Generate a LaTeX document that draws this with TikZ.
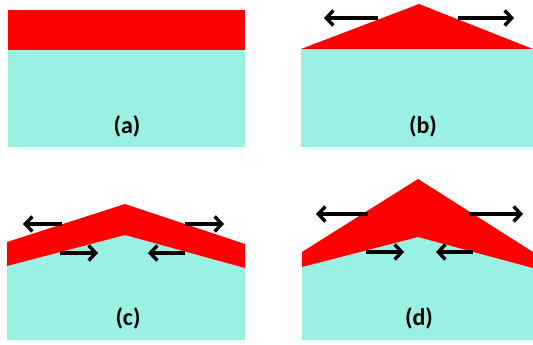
\documentclass[tikz,border=0pt]{standalone}
\usepackage{fontspec}
\setmainfont{Carlito}
\usepackage{tikz}
\usetikzlibrary{arrows.meta}

\definecolor{filmred}{RGB}{255,0,0}
\definecolor{substcyan}{RGB}{154,240,226}

\begin{document}
\begin{tikzpicture}[
  x=1pt, y=-1pt,
  film/.style={fill=filmred, draw=none},
  subst/.style={fill=substcyan, draw=none},
  push/.style={draw=black, line width=3.4pt, -{Straight Barb[length=7pt, width=15pt]}},
  tag/.style={font=\bfseries\fontsize{24}{26}\selectfont, inner sep=0pt}
]
\useasboundingbox (0,0) rectangle (533,345);

% (a) flat film
\fill[subst] (8,50) rectangle (245,147);
\fill[film] (8,10) rectangle (245,50);
\node[tag] (taga) at (127,126) {(a)};

% (b) wedge on top
\fill[subst] (301,49) rectangle (533,147);
\fill[film] (301,49) -- (419,4) -- (533,49) -- cycle;
\node[tag] (tagb) at (423,126) {(b)};
\coordinate (b1) at (378,18); \coordinate (b2) at (324,18);
\coordinate (b3) at (458,18); \coordinate (b4) at (514,18);
\draw[push] (b1) -- (b2);
\draw[push] (b3) -- (b4);

% (c) bent band
\fill[subst] (7,266) -- (125,235) -- (245,268) -- (245,340) -- (7,340) -- cycle;
\fill[film] (7,242) -- (125,204) -- (245,244) -- (245,268) -- (125,235) -- (7,266) -- cycle;
\node[tag] (tagc) at (128,318) {(c)};
\coordinate (c1) at (62,224); \coordinate (c2) at (23,224);
\coordinate (c3) at (185,224); \coordinate (c4) at (224,224);
\coordinate (c5) at (60,253); \coordinate (c6) at (98,253);
\coordinate (c7) at (185,253); \coordinate (c8) at (148,253);
\draw[push] (c1) -- (c2);
\draw[push] (c3) -- (c4);
\draw[push] (c5) -- (c6);
\draw[push] (c7) -- (c8);

% (d) thick bent wedge
\fill[subst] (302,267) -- (418,237) -- (533,267) -- (533,340) -- (302,340) -- cycle;
\fill[film] (302,252) -- (418,179) -- (533,252) -- (533,268) -- (418,237) -- (302,267) -- cycle;
\node[tag] (tagd) at (419,318) {(d)};
\coordinate (d1) at (368,214); \coordinate (d2) at (316,214);
\coordinate (d3) at (469,214); \coordinate (d4) at (523,214);
\coordinate (d5) at (366,252); \coordinate (d6) at (404,252);
\coordinate (d7) at (473,252); \coordinate (d8) at (436,252);
\draw[push] (d1) -- (d2);
\draw[push] (d3) -- (d4);
\draw[push] (d5) -- (d6);
\draw[push] (d7) -- (d8);

\end{tikzpicture}
\end{document}
